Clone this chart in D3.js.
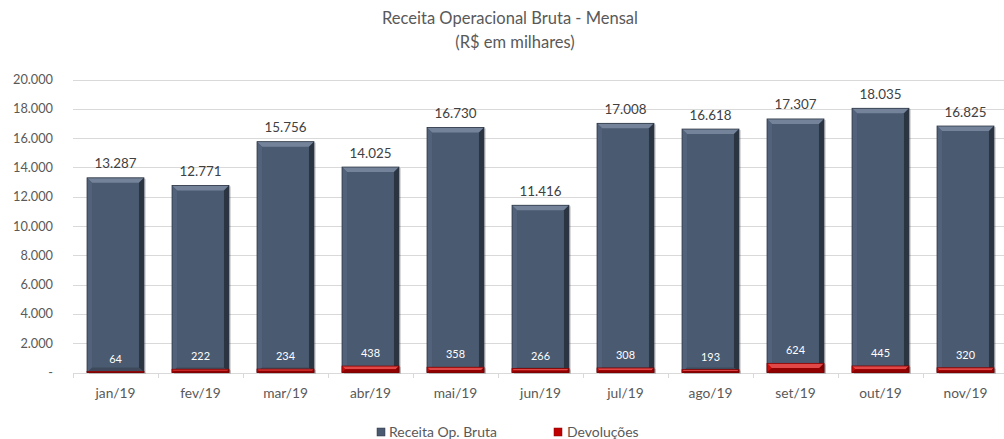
<!DOCTYPE html>
<html lang="pt">
<head>
<meta charset="UTF-8">
<title>Receita Operacional Bruta - Mensal</title>
<script src="https://d3js.org/d3.v7.min.js"></script>
<style>
  body { margin: 0; background: #fff; }
  text { font-family: Lato, "Open Sans", sans-serif; }
</style>
</head>
<body>
<svg id="chart"></svg>
<script>
const months = ['jan/19','fev/19','mar/19','abr/19','mai/19','jun/19','jul/19','ago/19','set/19','out/19','nov/19'];
const receita = [13287, 12771, 15756, 14025, 16730, 11416, 17008, 16618, 17307, 18035, 16825];
const devolucoes = [64, 222, 234, 438, 358, 266, 308, 193, 624, 445, 320];
const yTicks = [0, 2000, 4000, 6000, 8000, 10000, 12000, 14000, 16000, 18000, 20000];

const width = 1004, height = 439;
const svg = d3.select('#chart').attr('width', width).attr('height', height);

const fmt = v => v === 0 ? '-' : d3.format(',')(v).replace(/,/g, '.');

// font size so that a sample string gets the width measured on the reference
function fitSize(sample, target) {
  const t = svg.append('text').attr('font-size', 20).text(sample);
  const w = t.node().getComputedTextLength();
  t.remove();
  return 20 * target / w;
}
const titleSize = fitSize('Receita Operacional Bruta - Mensal', 256);
const tickSize = fitSize('20.000', 40);
const catSize = fitSize('jan/19', 40);
const valSize = fitSize('13.287', 42);
const devSize = fitSize('222', 19);
const legSize = fitSize('Receita Op. Bruta', 108);

const x = d3.scaleBand().domain(months).range([73, 1008]).paddingInner(0.33).paddingOuter(0.165);
const y = d3.scaleLinear().domain([0, 20000]).range([372.5, 79.5]);

// title
svg.append('text').attr('x', 510).attr('y', 24).attr('text-anchor', 'middle')
  .attr('font-size', titleSize).attr('fill', '#595959').text('Receita Operacional Bruta - Mensal');
svg.append('text').attr('x', 515).attr('y', 48).attr('text-anchor', 'middle')
  .attr('font-size', titleSize).attr('fill', '#595959').text('(R$ em milhares)');

// grid
svg.append('g').selectAll('line').data(yTicks.slice(1)).join('line')
  .attr('x1', 73).attr('x2', width).attr('y1', d => Math.round(y(d)) + 0.5).attr('y2', d => Math.round(y(d)) + 0.5)
  .attr('stroke', '#d9d9d9');

// y labels
svg.append('g').selectAll('text').data(yTicks).join('text')
  .attr('x', 53).attr('y', d => y(d) + 4.5).attr('text-anchor', 'end')
  .attr('font-size', tickSize).attr('fill', '#595959').text(fmt);

// x axis
const xAxis = svg.append('g').attr('transform', 'translate(0,373)')
  .call(d3.axisBottom(x).tickSize(0).tickPadding(0).tickFormat(''));
xAxis.select('.domain').attr('stroke', '#d9d9d9').attr('d', 'M73,0.5H1008');
const bounds = d3.range(months.length + 1).map(i => 73 + i * x.step());
svg.append('g').selectAll('line').data(bounds).join('line')
  .attr('x1', d => Math.round(d) + 0.5).attr('x2', d => Math.round(d) + 0.5)
  .attr('y1', 373).attr('y2', 378).attr('stroke', '#d9d9d9');
svg.append('g').selectAll('text').data(months).join('text')
  .attr('x', d => x(d) + x.bandwidth() / 2).attr('y', 398).attr('text-anchor', 'middle')
  .attr('font-size', catSize).attr('fill', '#595959').text(d => d);

// bevelled bar
function bevelBar(g, x0, y0, w, h, c) {
  const b = Math.min(5, h / 2, w / 2);
  g.append('rect').attr('x', x0 + 2).attr('y', y0 + 1).attr('width', w).attr('height', h)
    .attr('fill', '#000').attr('opacity', 0.15);
  g.append('rect').attr('x', x0).attr('y', y0).attr('width', w).attr('height', h).attr('fill', c.main);
  const pts = a => a.map(p => p.join(',')).join(' ');
  g.append('polygon').attr('points', pts([[x0, y0], [x0 + w, y0], [x0 + w - b, y0 + b], [x0 + b, y0 + b]])).attr('fill', c.top);
  g.append('polygon').attr('points', pts([[x0 + w, y0], [x0 + w, y0 + h], [x0 + w - b, y0 + h - b], [x0 + w - b, y0 + b]])).attr('fill', c.right);
  g.append('polygon').attr('points', pts([[x0, y0], [x0 + b, y0 + b], [x0 + b, y0 + h - b], [x0, y0 + h]])).attr('fill', c.left);
  g.append('polygon').attr('points', pts([[x0, y0 + h], [x0 + b, y0 + h - b], [x0 + w - b, y0 + h - b], [x0 + w, y0 + h]])).attr('fill', c.bottom);
  g.append('rect').attr('x', x0).attr('y', y0).attr('width', w).attr('height', h)
    .attr('fill', 'none').attr('stroke', c.edge).attr('stroke-width', 0.8);
}

const blue = { main: '#4a5a70', top: '#74839a', right: '#2b3441', left: '#52627a', bottom: '#3e4a5c', edge: '#2e3745' };
const red = { main: '#c00000', top: '#e04848', right: '#7a0000', left: '#cc0a0a', bottom: '#900000', edge: '#800000' };

const bars = svg.append('g');
months.forEach((m, i) => {
  bevelBar(bars, x(m), y(receita[i]), x.bandwidth(), y(0) - y(receita[i]), blue);
});
months.forEach((m, i) => {
  bevelBar(bars, x(m), y(devolucoes[i]), x.bandwidth(), y(0) - y(devolucoes[i]), red);
});

// labels
svg.append('g').selectAll('text').data(months).join('text')
  .attr('x', d => x(d) + x.bandwidth() / 2).attr('y', (d, i) => y(receita[i]) - 9.5)
  .attr('text-anchor', 'middle').attr('font-size', valSize).attr('fill', '#404040')
  .text((d, i) => fmt(receita[i]));
svg.append('g').selectAll('text').data(months).join('text')
  .attr('x', d => x(d) + x.bandwidth() / 2).attr('y', (d, i) => y(devolucoes[i]) - 9)
  .attr('text-anchor', 'middle').attr('font-size', devSize).attr('fill', '#fff')
  .text((d, i) => fmt(devolucoes[i]));

// legend
const legend = svg.append('g');
legend.append('rect').attr('x', 377).attr('y', 428).attr('width', 8).attr('height', 8).attr('fill', blue.main).attr('stroke', '#2e3745').attr('stroke-width', 0.5);
legend.append('text').attr('x', 389).attr('y', 437).attr('font-size', legSize).attr('fill', '#595959').text('Receita Op. Bruta');
legend.append('rect').attr('x', 554).attr('y', 428).attr('width', 8).attr('height', 8).attr('fill', red.main).attr('stroke', '#800000').attr('stroke-width', 0.5);
legend.append('text').attr('x', 567).attr('y', 437).attr('font-size', legSize).attr('fill', '#595959').text('Devoluções');
</script>
</body>
</html>
